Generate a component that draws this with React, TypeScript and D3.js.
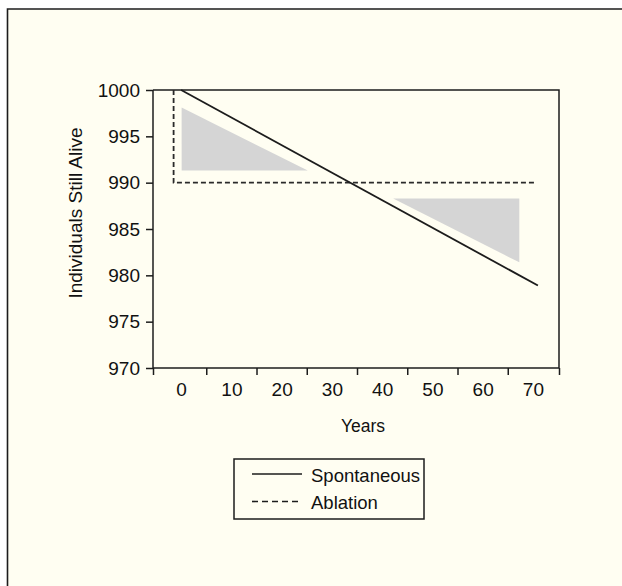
import React, { useEffect, useRef } from "react";
import * as d3 from "d3";

// values
const yearLabels = [0, 10, 20, 30, 40, 50, 60, 70];
const yearMinorTicks = [5, 15, 25, 35, 45, 55, 65];
const aliveTicks = [970, 975, 980, 985, 990, 995, 1000];

const spontaneousYears = [0, 71];
const spontaneousAlive = [1000, 978.9];

const ablationYears = [-1.5, -1.5, 70.5];
const ablationAlive = [1000, 990, 990];

// shaded triangles between the two curves
const earlyYears = [0.1, 0.1, 25.2];
const earlyAlive = [998.1, 991.3, 991.3];
const lateYears = [42.2, 67.3, 67.3];
const lateAlive = [988.3, 988.3, 981.4];

const legendNames = ["Spontaneous", "Ablation"];

const W = 622;
const H = 586;
const FONT = "'Liberation Sans', Arial, Helvetica, sans-serif";
const INK = "#1c1c1c";

export default function App() {
  const ref = useRef<SVGSVGElement | null>(null);

  useEffect(() => {
    const svg = d3.select(ref.current);
    svg.selectAll("*").remove();

    // figure frame (top and left edges only, cream fill)
    svg.append("rect").attr("x", 7.5).attr("y", 9).attr("width", W).attr("height", H).attr("fill", "#fffef2");
    svg.append("path").attr("d", `M7.5,${H} V9 H${W}`).attr("fill", "none").attr("stroke", INK).attr("stroke-width", 1.6);

    const left = 153, right = 559, top = 90, bottom = 368;

    const x = d3.scaleLinear().domain([-5.6, 75.2]).range([left, right]);
    const y = d3.scaleLinear().domain([970, 1000]).range([bottom, top]);

    const tri = (xs: number[], ys: number[]) =>
      d3.line<number>().x((d, i) => x(xs[i])).y((d, i) => y(ys[i]))(ys) + "Z";

    svg.append("path").attr("d", tri(earlyYears, earlyAlive)).attr("fill", "#d5d5d5");
    svg.append("path").attr("d", tri(lateYears, lateAlive)).attr("fill", "#d5d5d5");

    // plot box top and right
    svg.append("path")
      .attr("d", `M${left},${top} H${right} V${bottom}`)
      .attr("fill", "none").attr("stroke", INK).attr("stroke-width", 1.5);

    // y axis
    const yAxis = svg.append("g").attr("transform", `translate(${left},0)`)
      .call(d3.axisLeft(y).tickValues(aliveTicks).tickSize(7).tickPadding(6).tickFormat(d3.format("d")));
    yAxis.select(".domain").attr("stroke", INK).attr("stroke-width", 1.5).attr("d", `M0,${top}V${bottom}`);
    yAxis.selectAll(".tick line").attr("stroke", INK).attr("stroke-width", 1.5);
    yAxis.selectAll(".tick text").attr("font-family", FONT).attr("font-size", 19).attr("fill", "#111");

    // x axis: ticks between years, labels at years
    const xTicks = svg.append("g").attr("transform", `translate(0,${bottom})`)
      .call(d3.axisBottom(x).tickValues([x.domain()[0], ...yearMinorTicks, x.domain()[1]]).tickSize(7).tickFormat(() => ""));
    xTicks.select(".domain").attr("stroke", INK).attr("stroke-width", 1.5).attr("d", `M${left},0H${right}`);
    xTicks.selectAll(".tick line").attr("stroke", INK).attr("stroke-width", 1.5);

    const xLabels = svg.append("g").attr("transform", `translate(0,${bottom})`)
      .call(d3.axisBottom(x).tickValues(yearLabels).tickSize(0).tickPadding(15).tickFormat(d3.format("d")));
    xLabels.select(".domain").remove();
    xLabels.selectAll(".tick text").attr("font-family", FONT).attr("font-size", 19).attr("fill", "#111");

    // axis titles
    svg.append("text").attr("x", 363).attr("y", 432).attr("text-anchor", "middle")
      .attr("font-family", FONT).attr("font-size", 17.5).attr("fill", "#111").text("Years");
    svg.append("text").attr("transform", "translate(82,213) rotate(-90)").attr("text-anchor", "middle")
      .attr("font-family", FONT).attr("font-size", 19).attr("fill", "#111").text("Individuals Still Alive");

    // series
    const line = (xs: number[], ys: number[]) =>
      d3.line<number>().x((d, i) => x(xs[i])).y((d, i) => y(ys[i]))(ys);

    svg.append("path").attr("d", line(ablationYears, ablationAlive))
      .attr("fill", "none").attr("stroke", "#2a2a2a").attr("stroke-width", 1.8).attr("stroke-dasharray", "5,3");
    svg.append("path").attr("d", line(spontaneousYears, spontaneousAlive))
      .attr("fill", "none").attr("stroke", INK).attr("stroke-width", 1.8);

    // legend
    const lg = svg.append("g");
    lg.append("rect").attr("x", 234).attr("y", 459).attr("width", 190).attr("height", 60)
      .attr("fill", "none").attr("stroke", INK).attr("stroke-width", 1.5);
    legendNames.forEach((name, i) => {
      const ly = 474 + i * 27.5;
      lg.append("line").attr("x1", 252).attr("x2", 302).attr("y1", ly).attr("y2", ly)
        .attr("stroke", INK).attr("stroke-width", 1.6)
        .attr("stroke-dasharray", i === 1 ? "6,4" : null);
      lg.append("text").attr("x", 311).attr("y", ly + 7.5)
        .attr("font-family", FONT).attr("font-size", 18.5).attr("fill", "#111").text(name);
    });
  }, []);

  return (
    <svg
      ref={ref}
      width={W}
      height={H}
      style={{ position: "absolute", left: 0, top: 0, display: "block", background: "#fff" }}
    />
  );
}
